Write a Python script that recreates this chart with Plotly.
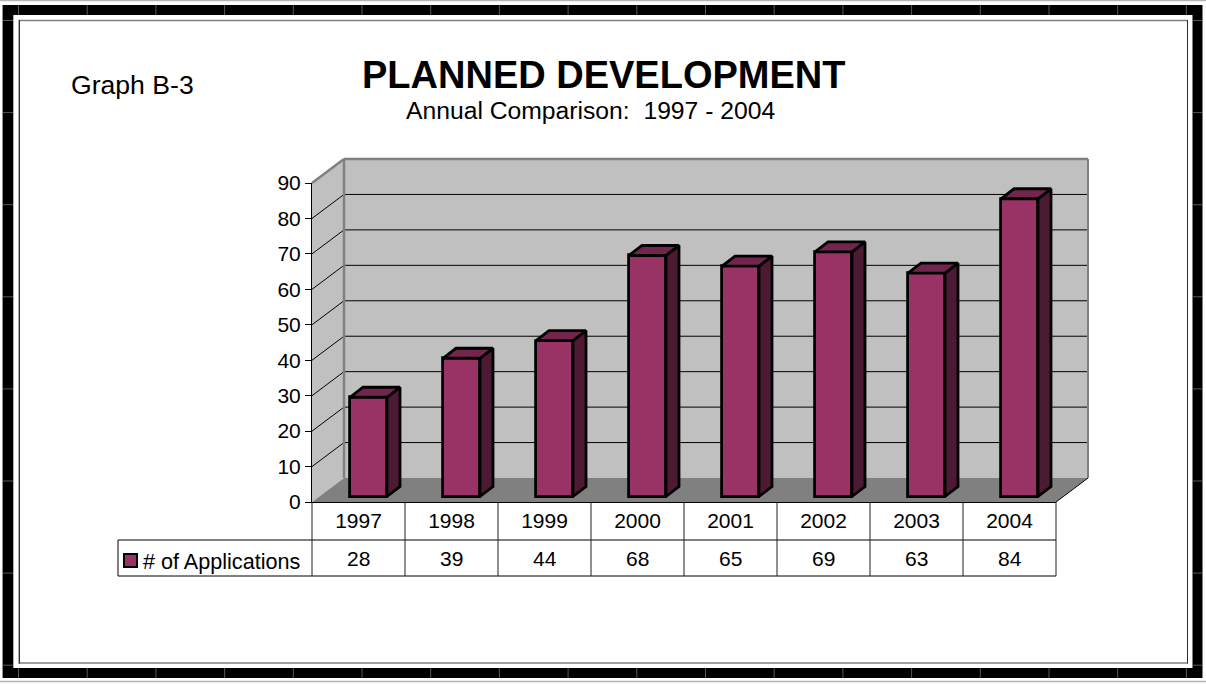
import plotly.graph_objects as go

years = ["1997", "1998", "1999", "2000", "2001", "2002", "2003", "2004"]
applications = [28, 39, 44, 68, 65, 69, 63, 84]
y_ticks = [0, 10, 20, 30, 40, 50, 60, 70, 80, 90]

W, H = 1206, 684
FONT = "Liberation Sans"
FRONT, SIDE, TOP = "#993366", "#4d1a33", "#73264d"
WALL, FLOOR, EDGE = "#c0c0c0", "#808080", "#808080"

# plot frame in pixels
L, R, T, B = 312, 1056, 183, 502
UX = (R - L) / len(years)         # px per category
UY = (B - T) / 90                 # px per value unit
WALL_DX, WALL_DY = 32, 24         # floor depth
BAR_DX, BAR_DY = 13, 10           # bar depth
BAR_SHIFT_X, BAR_SHIFT_Y = 10, 5.5  # bar set back from front edge
BAR_W = 37


def X(p):
    return p / W


def Y(p):
    return 1 - p / H


def line(x0, y0, x1, y1, color="black", width=1):
    return dict(type="line", xref="paper", yref="paper", x0=X(x0), y0=Y(y0), x1=X(x1), y1=Y(y1),
                line=dict(color=color, width=width), layer="below")


def poly(pts, fill, color=None, width=0):
    path = "M " + " L ".join(f"{X(a):.5f},{Y(b):.5f}" for a, b in pts) + " Z"
    return dict(type="path", xref="paper", yref="paper", path=path, fillcolor=fill,
                line=dict(color=color or fill, width=width), layer="below")


shapes = []
# outer frame
shapes.append(dict(type="rect", xref="paper", yref="paper", x0=X(8), x1=X(1197.5), y0=Y(10), y1=Y(673),
                   line=dict(color="black", width=10), fillcolor="white", layer="below"))
shapes.append(line(0, 0.5, W, 0.5, "#b4b4b4", 1.5))
shapes.append(line(0, 681.5, W, 681.5, "#b4b4b4", 1.5))
shapes.append(line(2.5, 5, 2.5, 678, "#909090", 1))
shapes.append(line(13.5, 15, 13.5, 668, "#b0b0b0", 1))
# panel seams on the frame
sx = 18.5
while sx < 1195:
    shapes.append(line(sx, 5, sx, 15, "#585858", 1))
    shapes.append(line(sx, 668, sx, 678, "#585858", 1))
    sx += 68.7
sy = 20.5
while sy < 670:
    shapes.append(line(3, sy, 13, sy, "#585858", 1))
    shapes.append(line(1193, sy, 1202, sy, "#585858", 1))
    sy += 92.1
# inner box: gray top and bottom, dark sides
shapes.append(line(18, 20.5, 1188, 20.5, "#808080", 1.5))
shapes.append(line(18, 663, 1188, 663, "#808080", 1.5))
shapes.append(line(19.5, 20, 19.5, 663.5, "#303030", 1))
shapes.append(line(1187.5, 20, 1187.5, 663.5, "#303030", 1))
shapes.append(line(18.5, 20, 18.5, 664, "#b0b0b0", 1))

# walls and floor
shapes.append(poly([(L, T), (L + WALL_DX, T - WALL_DY), (R + WALL_DX, T - WALL_DY), (R + WALL_DX, B - WALL_DY),
                    (L + WALL_DX, B - WALL_DY), (L, B)], WALL))
shapes.append(poly([(L, B), (L + WALL_DX, B - WALL_DY), (R + WALL_DX, B - WALL_DY), (R, B)], FLOOR))
for v in y_ticks[1:-1]:
    p = B - v * UY
    shapes.append(line(L, p, L + WALL_DX, p - WALL_DY))
    shapes.append(line(L + WALL_DX, p - WALL_DY, R + WALL_DX, p - WALL_DY))
shapes.append(line(L, T, L + WALL_DX, T - WALL_DY, EDGE, 2.5))
shapes.append(line(L + WALL_DX, T - WALL_DY, R + WALL_DX, T - WALL_DY, EDGE, 2.5))
shapes.append(line(R + WALL_DX, T - WALL_DY, R + WALL_DX, B - WALL_DY, EDGE, 2))
shapes.append(line(L + WALL_DX, T - WALL_DY, L + WALL_DX, B - WALL_DY, EDGE, 2.5))
# floor front-right edge
shapes.append(line(R, B, R + WALL_DX, B - WALL_DY, "black", 1))

# data table
for yy in (540, 576):
    shapes.append(line(118, yy, R, yy, "black", 1))
shapes.append(line(118, 540, 118, 576, "black", 1))
for i in range(len(years) + 1):
    shapes.append(line(L + i * UX, B, L + i * UX, 576, "#202020", 1))
# legend swatch
shapes.append(dict(type="rect", xref="paper", yref="paper", x0=X(124), x1=X(137), y0=Y(554), y1=Y(567),
                   fillcolor=FRONT, line=dict(color="black", width=2), layer="above"))

# bars: data-unit offsets
off_x = BAR_SHIFT_X / UX
off_y = BAR_SHIFT_Y / UY
bw = BAR_W / UX
dx = BAR_DX / UX
dy = BAR_DY / UY
xs = list(range(len(years)))

side_x, side_y, top_x, top_y = [], [], [], []
for i, v in zip(xs, applications):
    x1 = i + off_x + bw / 2
    x0 = i + off_x - bw / 2
    vt = v + off_y
    side_x += [x1, x1 + dx, x1 + dx, x1, x1, None]
    side_y += [off_y, off_y + dy, vt + dy, vt, off_y, None]
    top_x += [x0, x0 + dx, x1 + dx, x1, x0, None]
    top_y += [vt, vt + dy, vt + dy, vt, vt, None]

fig = go.Figure()
fig.add_bar(x=xs, y=applications, base=off_y, width=bw, offset=off_x - bw / 2,
            marker=dict(color=FRONT, line=dict(color="black", width=2.8)), showlegend=False,
            name="# of Applications")
fig.add_scatter(x=side_x, y=side_y, mode="lines", fill="toself", fillcolor=SIDE,
                line=dict(color="black", width=2.8), hoverinfo="skip", showlegend=False)
fig.add_scatter(x=top_x, y=top_y, mode="lines", fill="toself", fillcolor=TOP,
                line=dict(color="black", width=2.8), hoverinfo="skip", showlegend=False)

ann = [
    dict(text="<b>PLANNED DEVELOPMENT</b>", x=X(603.5), y=Y(75), font=dict(size=38)),
    dict(text="Annual Comparison:  1997 - 2004", x=X(590), y=Y(110), font=dict(size=24.7)),
    dict(text="Graph B-3", x=X(132), y=Y(85), font=dict(size=26.6)),
    dict(text="# of Applications", x=X(221), y=Y(561), font=dict(size=21.6)),
]
for a in ann:
    a.update(xref="paper", yref="paper", showarrow=False, xanchor="center", yanchor="middle")
    a["font"].update(family=FONT, color="black")
for i, v in zip(xs, applications):
    ann.append(dict(text=str(v), x=i, xref="x", y=Y(558), yref="paper", showarrow=False,
                    xanchor="center", yanchor="middle", font=dict(family=FONT, size=21, color="black")))

fig.update_layout(
    width=W, height=H, autosize=False, margin=dict(l=0, r=0, t=0, b=0),
    paper_bgcolor="white", plot_bgcolor="rgba(0,0,0,0)", shapes=shapes, annotations=ann,
    font=dict(family=FONT, size=21, color="black"), bargap=0,
    xaxis=dict(domain=[X(L), X(R)], range=[-0.5, len(years) - 0.5], tickmode="array", tickvals=xs,
               ticktext=years, showgrid=False, zeroline=False, showline=True, linecolor="black",
               linewidth=1, ticks="", ticklabelstandoff=0, tickfont=dict(size=21), automargin=False),
    yaxis=dict(domain=[Y(B), Y(T)], range=[0, 90], tickmode="array", tickvals=y_ticks, showgrid=False,
               zeroline=False, showline=True, linecolor="black", linewidth=1, ticks="outside",
               ticklen=6, tickcolor="black", tickfont=dict(size=21), automargin=False),
)

fig.write_html("out.html", config={"displayModeBar": False},
               post_script="document.body.style.margin='0';document.documentElement.style.overflow='hidden';")
